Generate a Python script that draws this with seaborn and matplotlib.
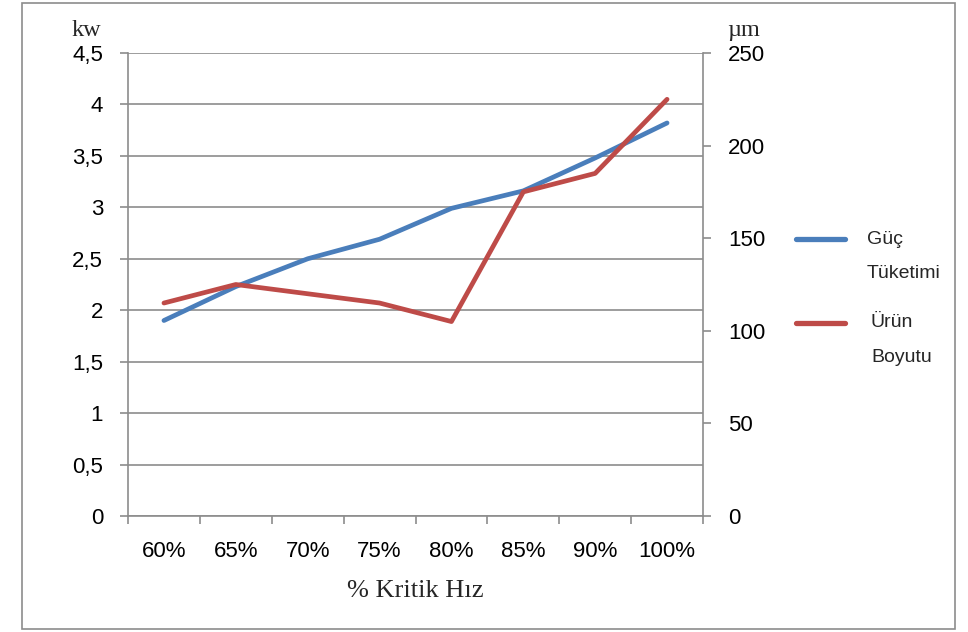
import matplotlib
matplotlib.use("Agg")
import matplotlib.pyplot as plt
import matplotlib.ticker as mticker
from matplotlib.patches import Rectangle
from matplotlib.lines import Line2D
import numpy as np
import pandas as pd
import seaborn as sns

# Data
speeds = ["60%", "65%", "70%", "75%", "80%", "85%", "90%", "100%"]
power_kw = [1.90, 2.23, 2.50, 2.69, 2.99, 3.16, 3.48, 3.82]
size_um = [115, 125, 120, 115, 105, 175, 185, 225]
series_names = ["Güç\nTüketimi", "Ürün\nBoyutu"]

BLUE = "#4A7EBB"
RED = "#BE4B48"
GRID = "#8c8c8c"
SERIF = ["Liberation Serif", "DejaVu Serif"]

sns.set_theme(style="white")
plt.rcParams["font.family"] = ["Liberation Sans", "DejaVu Sans"]

df = pd.DataFrame({"pos": np.arange(len(speeds)), "speed": speeds,
                   "power": power_kw, "size": size_um})

fig = plt.figure(figsize=(9.68, 6.32), dpi=100)
W, H = 968, 632


def fx(px):
    return px / W


def fy(py):
    return 1 - py / H


ax = fig.add_axes([fx(128), fy(516), (703 - 128) / W, (516 - 53) / H])
ax2 = ax.twinx()

LW = 3.4
sns.lineplot(data=df, x="pos", y="power", ax=ax, color=BLUE, linewidth=LW,
             solid_capstyle="round", solid_joinstyle="round", legend=False)
sns.lineplot(data=df, x="pos", y="size", ax=ax2, color=RED, linewidth=LW,
             solid_capstyle="round", solid_joinstyle="round", legend=False)

ax.set_xlim(-0.5, len(speeds) - 0.5)
ax.set_ylim(0, 4.5)
ax2.set_ylim(0, 250)

# left axis ticks with decimal comma
ax.yaxis.set_major_locator(mticker.MultipleLocator(0.5))
ax.yaxis.set_major_formatter(mticker.FuncFormatter(
    lambda v, p: f"{v:g}".replace(".", ",")))
ax2.yaxis.set_major_locator(mticker.MultipleLocator(50))

# category labels centred, tick marks on category boundaries
ax.set_xticks(np.arange(len(speeds)))
ax.set_xticklabels(speeds)
ax.set_xticks(np.arange(len(speeds) + 1) - 0.5, minor=True)
ax.tick_params(axis="x", which="major", length=0, pad=18, labelsize=16,
               labelcolor="black")
ax.tick_params(axis="x", which="minor", length=6, width=1.2, color=GRID,
               direction="out", bottom=True)
ax.tick_params(axis="y", length=6, width=1.2, color=GRID, direction="out",
               left=True, labelsize=16, labelcolor="black", pad=12)
ax2.tick_params(axis="y", length=6, width=1.2, color=GRID, direction="out",
                right=True, labelsize=16, labelcolor="black", pad=12)

ax.grid(axis="y", color=GRID, linewidth=1.2)
ax.grid(axis="x", visible=False)
ax2.grid(False)
ax.set_axisbelow(True)

for a in (ax, ax2):
    a.spines["top"].set_visible(False)
    for side in ("left", "right", "bottom"):
        a.spines[side].set_color(GRID)
        a.spines[side].set_linewidth(1.2)
ax.spines["right"].set_visible(False)
ax2.spines["left"].set_visible(False)
ax2.spines["bottom"].set_visible(False)

ax.set_xlabel("% Kritik Hız", family=SERIF, fontsize=19, labelpad=13)
ax.set_ylabel("")
ax2.set_ylabel("")

# unit captions above both value axes
fig.text(fx(86), fy(36), "kw", family=SERIF, fontsize=17.5,
         ha="center", va="baseline")
fig.text(fx(727), fy(36), "µm", family=SERIF, fontsize=17.5,
         ha="left", va="baseline")

# legend: a line sample beside each two-line series name
for color, name, y_line, x_text in [(BLUE, series_names[0], 239, 867),
                                    (RED, series_names[1], 323, 871)]:
    fig.add_artist(Line2D([fx(796), fx(845)], [fy(y_line), fy(y_line)],
                          transform=fig.transFigure, color=color,
                          linewidth=LW + 0.4, solid_capstyle="round"))
    first, second = name.split("\n")
    fig.text(fx(x_text), fy(y_line), first, fontsize=14,
             ha="left", va="center")
    fig.text(fx(x_text), fy(y_line + 34), second, fontsize=14,
             ha="left", va="center")

# outer chart border
fig.add_artist(Rectangle((fx(22), fy(629)), (955 - 22) / W, (629 - 3) / H,
                         transform=fig.transFigure, fill=False,
                         edgecolor=GRID, linewidth=1.2))

fig.savefig("out.png", dpi=100)
